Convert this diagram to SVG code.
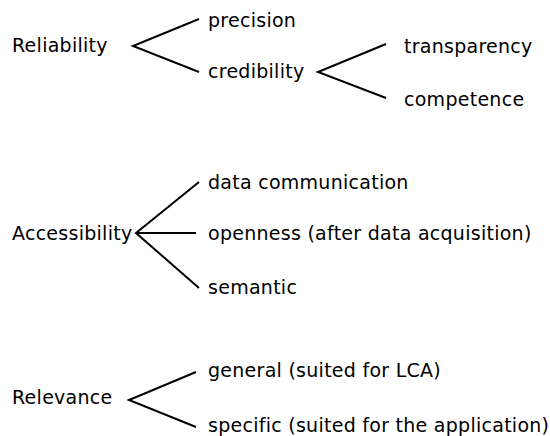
<svg xmlns="http://www.w3.org/2000/svg" width="550" height="436" viewBox="0 0 550 436">
  <style>
    text { font-family: "DejaVu Sans", Tahoma, Verdana, sans-serif; font-size: 19px; letter-spacing: 0.27px; fill: #000; }
    .edge { stroke: #000; stroke-width: 2; fill: none; stroke-linecap: butt; }
  </style>
  <rect width="550" height="436" fill="#fff"/>

  <g id="connectors">
    <!-- Reliability -->
    <polyline class="edge" points="199,19 133,46 199,72"/>
    <!-- credibility -->
    <polyline class="edge" points="386,44 318,72 386,98"/>
    <!-- Accessibility -->
    <polyline class="edge" points="199,182 136,233 199,288"/>
    <line class="edge" x1="136" y1="233" x2="196" y2="233"/>
    <!-- Relevance -->
    <polyline class="edge" points="196,372 129,400 196,427"/>
  </g>

  <g id="reliability"><text x="12" y="52">Reliability</text></g>
  <g id="precision"><text x="208" y="27">precision</text></g>
  <g id="credibility"><text x="208" y="78">credibility</text></g>
  <g id="transparency"><text x="404" y="53">transparency</text></g>
  <g id="competence"><text x="404" y="106">competence</text></g>

  <g id="accessibility"><text x="12" y="240">Accessibility</text></g>
  <g id="data-communication"><text x="208" y="189">data communication</text></g>
  <g id="openness"><text x="208" y="240">openness (after data acquisition)</text></g>
  <g id="semantic"><text x="208" y="294">semantic</text></g>

  <g id="relevance"><text x="12" y="404">Relevance</text></g>
  <g id="general"><text x="208" y="377">general (suited for LCA)</text></g>
  <g id="specific"><text x="208" y="432">specific (suited for the application)</text></g>
</svg>
